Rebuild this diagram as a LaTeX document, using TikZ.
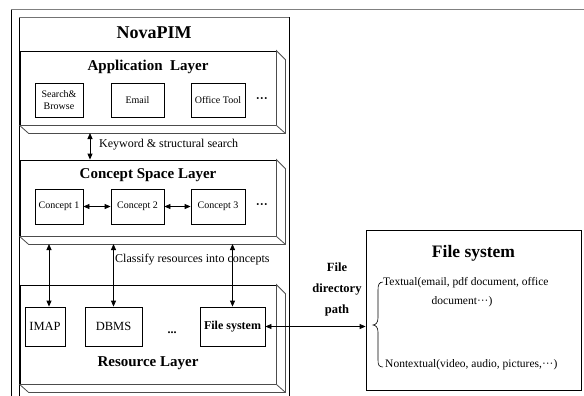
\documentclass[tikz,border=0pt]{standalone}
\usepackage{fontspec}
\setmainfont{Liberation Serif}
\usetikzlibrary{arrows.meta,calc}
\newcommand\layersides[1]{%
  \path[sidel] (#1.north east) -- ++(9,9) -- ($(#1.south east)+(9,8)$) -- ($(#1.south west)+(9,8)$) -- (#1.south west) -- (#1.south east) -- cycle;
  \draw[sidel] (#1.south east) -- ($(#1.south east)+(9,8)$);
}
\newcommand\mdots{\textperiodcentered\textperiodcentered\textperiodcentered}
\begin{document}
\begin{tikzpicture}[x=1pt,y=-1pt,
  box/.style={draw,line width=0.8pt,fill=white,inner sep=1pt,align=center,font=\fontsize{10}{12}\selectfont},
  face/.style={draw,line width=0.8pt,fill=white,minimum width=256pt,inner sep=0pt},
  sidel/.style={draw=black!70,line width=0.8pt,fill=white},
  title/.style={font=\fontsize{15}{18}\selectfont\bfseries},
  lab/.style={font=\fontsize{12}{14}\selectfont,inner sep=1pt},
  arr/.style={{Triangle[length=6pt,width=5pt]}-{Triangle[length=6pt,width=5pt]},line width=0.8pt},
  dotsn/.style={font=\fontsize{12}{14}\selectfont\bfseries,inner sep=0pt},
  small/.style={font=\fontsize{11.5}{13}\selectfont,inner sep=0pt}
]
\useasboundingbox (0,0) rectangle (584,396);
% frame lines
\draw[black!50,line width=1pt] (11,10) -- (584,10);
\draw[line width=0.8pt] (11,10) -- (11,396);
% NovaPIM container
\draw[line width=0.8pt] (19,396) -- (19,17) -- (289,17) -- (289,396);
\draw[black!55,line width=0.8pt] (19,17) -- (289,17);
\node[font=\fontsize{18}{20}\selectfont\bfseries] (nova) at (154,33) {NovaPIM};

% layers
\node[face,minimum height=74pt] (app) at (148,88) {};
\layersides{app}
\node[face,minimum height=76pt] (csl) at (148,198) {};
\layersides{csl}
\node[face,minimum height=99pt] (res) at (148,334.5) {};
\layersides{res}

\node[title] (appt) at (148,67) {Application\ \ Layer};
\node[title] (cslt) at (148,175) {Concept Space Layer};
\node[title] (rest) at (148,363) {Resource Layer};

% application boxes
\node[box,minimum width=48pt,minimum height=34pt] (sb) at (59,100) {Search\&\\Browse};
\node[box,minimum width=53pt,minimum height=34pt] (em) at (137.5,100) {Email};
\node[box,minimum width=54pt,minimum height=34pt] (ot) at (218,100) {Office Tool};
\node[dotsn] (d1) at (262,100) {\mdots};

% concept boxes
\node[box,minimum width=48pt,minimum height=35pt] (c1) at (59,206.5) {Concept 1};
\node[box,minimum width=53pt,minimum height=35pt] (c2) at (137.5,206.5) {Concept 2};
\node[box,minimum width=54pt,minimum height=35pt] (c3) at (218,206.5) {Concept 3};
\node[dotsn] (d2) at (262,206.5) {\mdots};
\draw[arr] (c1) -- (c2);
\draw[arr] (c2) -- (c3);

% resource boxes
\node[box,font=\fontsize{12.5}{14}\selectfont,minimum width=40pt,minimum height=39pt] (imap) at (45,326.5) {IMAP};
\node[box,font=\fontsize{12.5}{14}\selectfont,minimum width=57pt,minimum height=39pt] (dbms) at (113.5,326.5) {DBMS};
\node[dotsn] (d3) at (172,333) {...};
\node[box,font=\fontsize{12}{14}\selectfont\bfseries,minimum width=65pt,minimum height=39pt] (fsb) at (232.5,326.5) {File system};

% keyword arrow
\coordinate (k1) at (90,133);
\draw[arr] (k1) -- (k1 |- csl.north);
\node[lab,anchor=west] (kwl) at (98,145) {Keyword \& structural search};

% classify arrows
\coordinate (a1) at (49,244);
\coordinate (a2) at (113.5,244);
\coordinate (a3) at (232.5,244);
\draw[arr] (a1) -- (a1 |- imap.north);
\draw[arr] (a2) -- (a2 |- dbms.north);
\draw[arr] (a3) -- (a3 |- fsb.north);
\node[lab,anchor=west] (cl) at (114,260) {Classify resources into concepts};

% right box
\node[draw,line width=0.8pt,minimum width=215pt,minimum height=160pt,inner sep=0pt] (fsr) at (473.5,310) {};
\node[font=\fontsize{17.5}{20}\selectfont\bfseries] (fst) at (473.5,253) {File system};
\draw[arr] (fsb.east) -- (fsb.east -| fsr.west);
\node[font=\fontsize{12.5}{21}\selectfont\bfseries,align=center] (fdp) at (337,289) {File\\directory\\path};

% brace and contents
\draw[line width=0.6pt] (383,282) .. controls (379,282) and (378,285) .. (378,290)
  -- (378,318) .. controls (378,322) and (376,325) .. (373,325)
  .. controls (376,325) and (378,328) .. (378,332)
  -- (378,360) .. controls (378,365) and (379,367) .. (383,367);
\node[small,anchor=west] (tx) at (383,283) {Textual(email, pdf document, office};
\node[small] (tx2) at (462,302) {document\mdots)};
\node[small,anchor=west] (ntx) at (385,365) {Nontextual(video, audio, pictures,\mdots)};
\end{tikzpicture}
\end{document}
